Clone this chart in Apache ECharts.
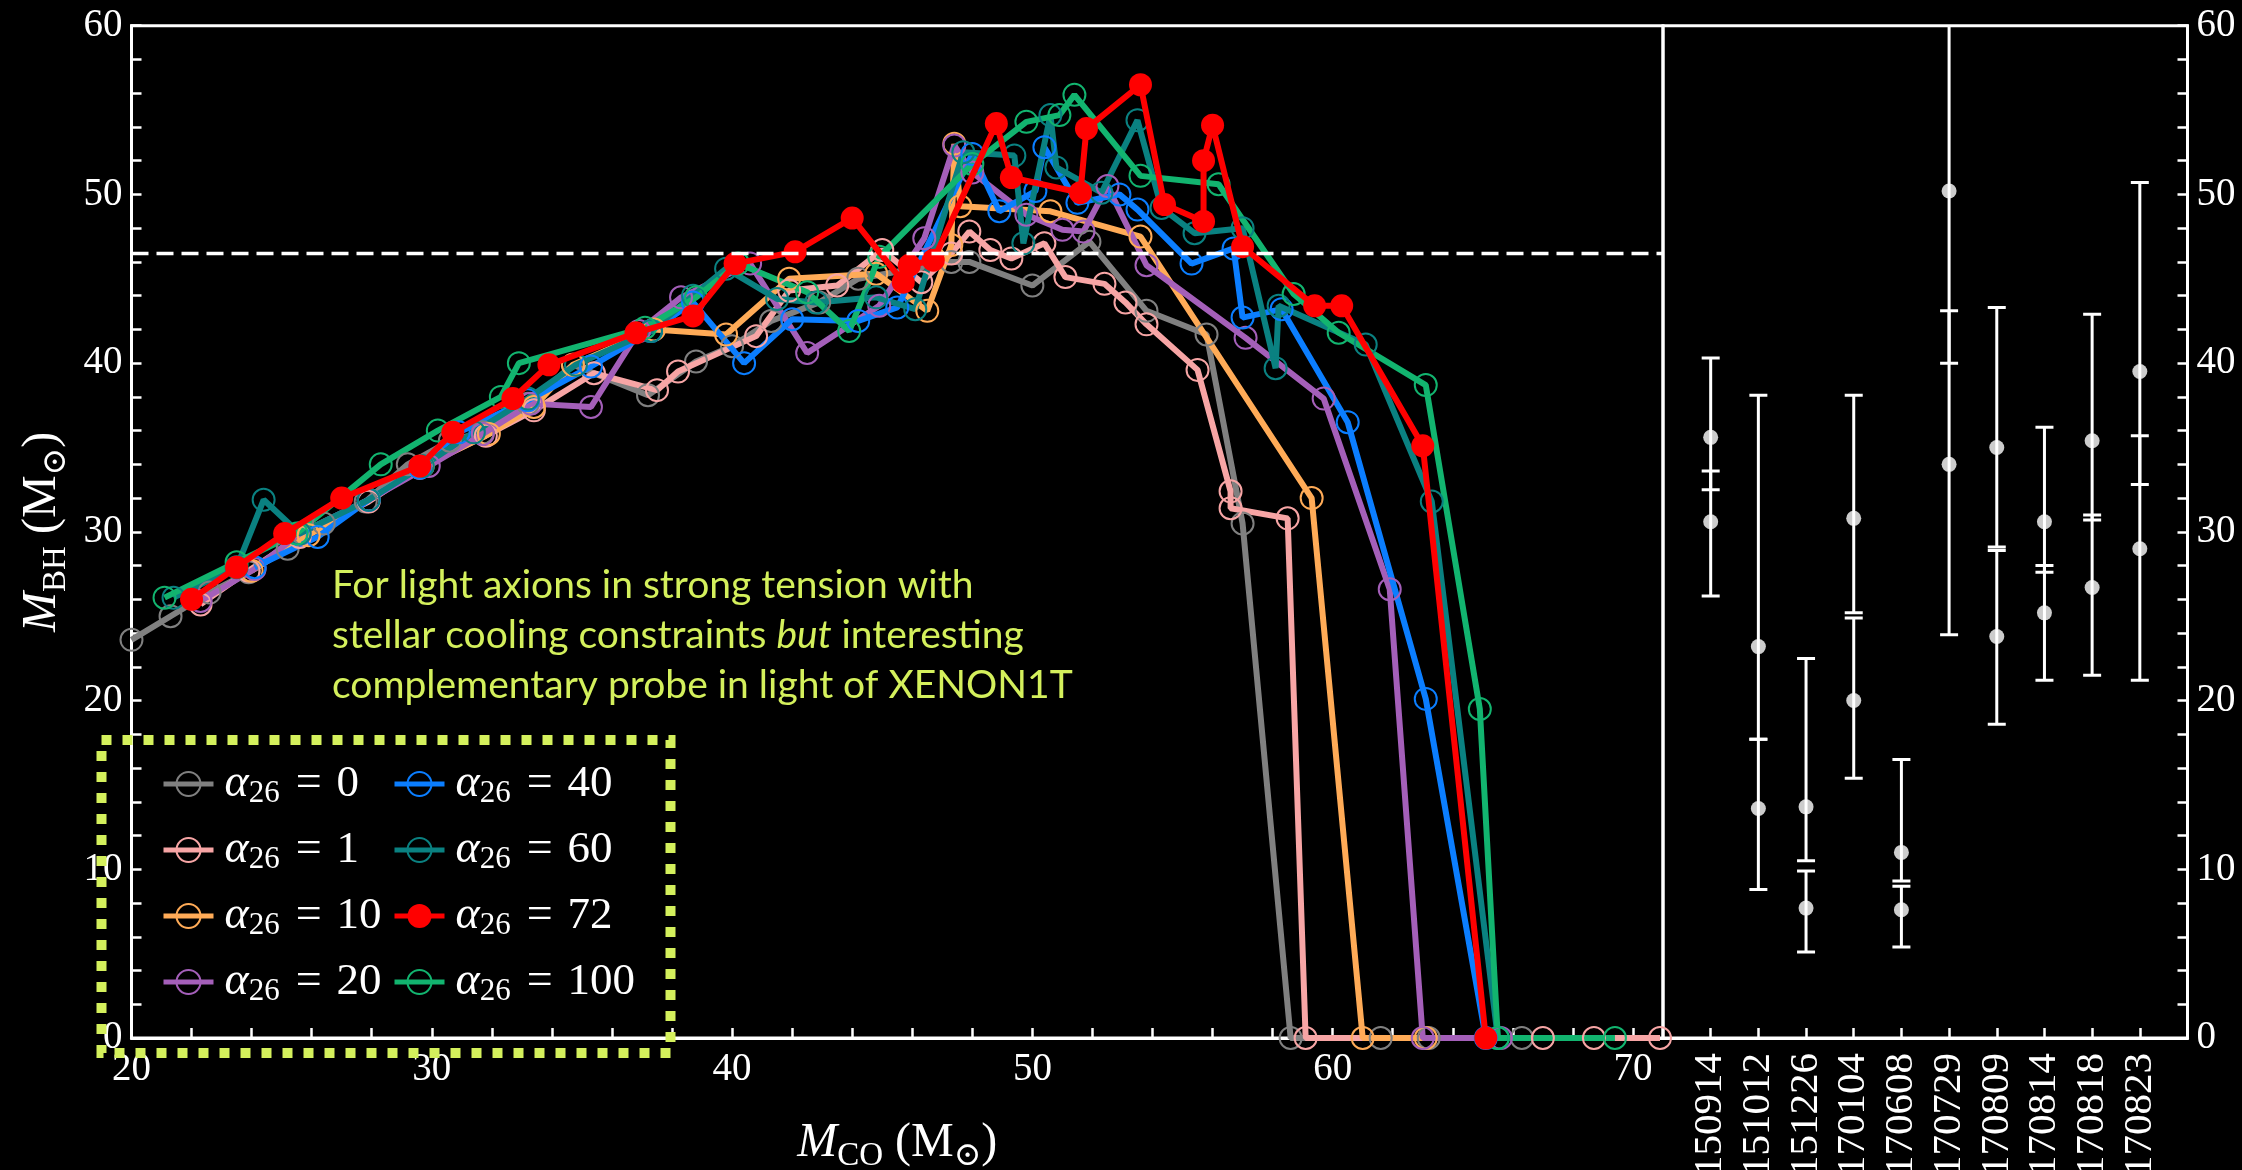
<!DOCTYPE html>
<html>
<head>
<meta charset="utf-8">
<script src="https://cdn.jsdelivr.net/npm/echarts@6/dist/echarts.min.js"></script>
<style>
  html, body { margin: 0; padding: 0; background: #000; }
  #chart { width: 2242px; height: 1170px; }
</style>
</head>
<body>
<div id="chart"></div>
<script>
// ---- Data: black-hole mass vs CO-core mass for several axion couplings ----
const alphaValues = [0, 1, 10, 20, 40, 60, 72, 100];

const mbhAlpha0 = [[20.0,23.6],[21.3,25.0],[22.6,26.4],[23.9,27.6],[25.2,29.0],[26.4,30.5],[27.8,31.8],[29.2,34.0],[30.6,35.4],[31.7,35.9],[33.2,37.6],[34.7,39.9],[37.2,38.1],[38.8,40.1],[40.0,41.0],[41.3,42.5],[42.9,43.6],[44.2,45.0],[47.3,46.0],[47.9,46.0],[50.0,44.6],[51.9,47.2],[53.8,43.1],[55.8,41.7],[57.0,30.5],[58.6,0],[61.6,0],[63.2,0],[66.3,0]];
const mbhAlpha1 = [[22.3,25.7],[23.9,27.7],[25.6,29.7],[27.9,31.8],[29.6,33.8],[31.8,35.7],[33.4,37.2],[35.4,39.4],[37.5,38.4],[38.2,39.5],[40.8,41.6],[41.9,44.3],[43.5,44.6],[45.0,46.7],[46.3,44.8],[47.3,46.5],[47.9,47.8],[48.6,46.7],[49.3,46.2],[50.4,47.1],[51.1,45.1],[52.4,44.7],[53.1,43.6],[53.8,42.3],[55.5,39.6],[56.6,32.4],[56.6,31.4],[58.5,30.8],[59.1,0],[67.0,0],[68.7,0],[70.9,0]];
const mbhAlpha10 = [[24.0,27.7],[25.9,29.8],[27.9,31.9],[29.7,33.9],[31.9,35.8],[33.4,37.4],[34.7,39.9],[37.4,42.0],[39.8,41.7],[41.9,45.0],[44.8,45.3],[46.5,43.1],[47.3,47.0],[47.4,53.0],[47.6,49.3],[50.6,49.0],[53.6,47.5],[59.3,32.0],[61.0,0],[63.1,0]];
const mbhAlpha20 = [[22.3,25.9],[24.1,27.8],[25.6,29.9],[27.9,31.9],[29.9,33.9],[31.7,35.8],[33.3,37.6],[35.3,37.4],[36.9,41.9],[38.3,43.9],[40.6,45.9],[42.5,40.6],[44.9,43.4],[46.4,47.4],[47.4,52.9],[48.0,51.3],[49.8,48.8],[51.0,47.9],[51.7,47.8],[52.5,50.5],[53.8,45.8],[57.1,41.5],[59.7,37.9],[61.9,26.6],[63.0,0],[65.6,0]];
const mbhAlpha40 = [[24.1,27.9],[26.2,29.7],[27.9,31.9],[29.6,33.8],[30.9,35.9],[33.2,37.8],[35.3,39.8],[37.3,41.9],[38.7,43.6],[40.4,40.0],[42.0,42.6],[44.2,42.5],[45.5,43.3],[48.0,52.4],[48.9,49.0],[50.1,50.2],[50.4,52.8],[51.5,49.5],[52.9,50.0],[53.5,49.1],[55.3,45.9],[56.7,46.8],[57.0,42.7],[58.3,43.2],[60.5,36.5],[63.1,20.1],[65.1,0]];
const mbhAlpha60 = [[21.4,26.1],[23.5,27.9],[24.4,31.9],[25.6,29.9],[27.9,31.9],[29.7,33.9],[31.4,35.9],[33.2,37.9],[34.8,39.9],[37.3,41.9],[38.7,44.0],[39.8,45.6],[41.5,43.8],[42.8,43.6],[44.8,43.9],[46.1,43.2],[47.7,52.5],[49.4,52.3],[49.7,47.1],[50.6,54.7],[50.8,51.6],[52.3,50.1],[53.5,54.4],[54.3,49.2],[55.4,47.7],[57.0,48.0],[58.1,39.7],[58.2,43.4],[61.1,41.1],[63.3,31.8],[65.5,0]];
const mbhAlpha72 = [[22.0,26.0],[23.5,27.9],[25.1,29.9],[27.0,32.0],[29.6,33.9],[30.7,35.9],[32.7,37.9],[33.9,39.9],[36.8,41.8],[38.7,42.8],[40.1,45.9],[42.1,46.6],[44.0,48.6],[45.7,44.8],[45.9,45.8],[46.7,46.1],[48.8,54.2],[49.3,51.0],[51.6,50.1],[51.8,53.9],[53.6,56.5],[54.4,49.4],[55.7,48.4],[55.7,52.0],[56.0,54.1],[57.0,46.9],[59.4,43.4],[60.3,43.4],[63.0,35.1],[65.1,0]];
const mbhAlpha100 = [[21.1,26.1],[23.5,28.2],[25.5,29.9],[28.3,34.0],[30.2,36.0],[32.3,38.0],[32.9,40.0],[37.1,42.1],[38.8,43.9],[40.2,45.9],[42.5,44.2],[43.9,41.9],[44.9,46.3],[48.0,51.8],[49.8,54.3],[50.9,54.7],[51.4,55.9],[53.6,51.1],[56.2,50.6],[58.7,44.1],[60.2,41.8],[63.1,38.7],[64.9,19.5],[65.5,0],[69.4,0]];

const mbhSeries = [mbhAlpha0, mbhAlpha1, mbhAlpha10, mbhAlpha20, mbhAlpha40, mbhAlpha60, mbhAlpha72, mbhAlpha100];

// Lower edge of the pair-instability mass gap
const massGapEdge = 46.5;
const mcoRange = [20, 71];

// GWTC-1 binary black-hole events: primary (m1) and secondary (m2) masses with 90% intervals
const events = ['GW150914','GW151012','GW151226','GW170104','GW170608','GW170729','GW170809','GW170814','GW170818','GW170823'];
const m1 =    [35.6, 23.2, 13.7, 30.8, 11.0, 50.2, 35.0, 30.6, 35.4, 39.5];
const m1Low = [32.5, 17.7, 10.5, 25.2,  9.3, 40.0, 29.1, 27.6, 30.7, 32.8];
const m1High =[40.3, 38.1, 22.5, 38.1, 16.5, 66.4, 43.3, 36.2, 42.9, 50.7];
const m2 =    [30.6, 13.6,  7.7, 20.0,  7.6, 34.0, 23.8, 25.2, 26.7, 29.0];
const m2Low = [26.2,  8.8,  5.1, 15.4,  5.4, 23.9, 18.6, 21.2, 21.5, 21.2];
const m2High =[33.6, 17.7,  9.9, 24.9,  9.0, 43.1, 28.9, 28.0, 31.0, 35.7];

// Axis ticks and labels
const xTicks = [20,22,24,26,28,30,32,34,36,38,40,42,44,46,48,50,52,54,56,58,60,62,64,66,68,70];
const xLabels = [20,30,40,50,60,70];
const yTicks = [0,2,4,6,8,10,12,14,16,18,20,22,24,26,28,30,32,34,36,38,40,42,44,46,48,50,52,54,56,58,60];
const yLabels = [0,10,20,30,40,50,60];
const eventSlots = [1,2,3,4,5,6,7,8,9,10];
const eventRange = [0, 11];

// ---- Styling ----
const serif = "'Liberation Serif','DejaVu Serif',serif";
const colors = ['#808080', '#f7a5a5', '#ffab57', '#a45fb9', '#0b7eff', '#0a8181', '#ff0000', '#12b46f'];
const accent = '#d4f05c';
const white = '#ffffff';
const curveWidth = 6;
const legendLineWidth = 5;

const seriesNames = alphaValues.map(v => 'alpha26=' + v);

const legendRich = {
  a: { fontFamily: serif, fontStyle: 'italic', fontSize: 46, lineHeight: 50, color: white, padding: [0, 0, 0, 6] },
  s: { fontFamily: serif, fontSize: 31, lineHeight: 30, verticalAlign: 'bottom', color: white },
  q: { fontFamily: serif, fontSize: 46, lineHeight: 50, color: white, padding: [0, 15, 0, 16] },
  e: { fontFamily: serif, fontSize: 45, lineHeight: 50, color: white }
};
function legendLabel(name) {
  const v = alphaValues[seriesNames.indexOf(name)];
  return '{a|α}{s|26}{q|=}{e|' + v + '}';
}

const nameRich = {
  m: { fontFamily: serif, fontStyle: 'italic', fontSize: 48, lineHeight: 60, color: white },
  s: { fontFamily: serif, fontSize: 33, lineHeight: 40, verticalAlign: 'bottom', color: white },
  n: { fontFamily: serif, fontSize: 48, lineHeight: 60, color: white }
};

const tickStyle = { color: white, width: 2.5 };
const axisLineStyle = { color: white, width: 3 };
const labelStyle = { color: white, fontFamily: serif, fontSize: 39 };

const lineSeries = mbhSeries.map((data, i) => {
  const c = colors[i];
  const filled = alphaValues[i] === 72;
  return {
    type: 'line',
    name: seriesNames[i],
    xAxisIndex: 0,
    yAxisIndex: 0,
    data: data,
    symbol: 'circle',
    symbolSize: filled ? 23 : 22,
    color: c,
    lineStyle: { color: c, width: curveWidth, opacity: 1 },
    itemStyle: filled ? { color: c } : { color: 'rgba(0,0,0,0)', borderColor: c, borderWidth: 2 },
    emphasis: { disabled: true },
    z: filled ? 4 : 3,
    clip: true,
    animation: false
  };
});

const gapLine = {
  type: 'line',
  name: 'gap',
  xAxisIndex: 0,
  yAxisIndex: 0,
  data: [[mcoRange[0], massGapEdge], [mcoRange[1], massGapEdge]],
  symbol: 'none',
  lineStyle: { color: white, width: 3.5, type: [17, 8] },
  emphasis: { disabled: true },
  silent: true,
  z: 5,
  animation: false
};

// Error bars: [slot, low, high] for both component masses
const barData = [];
events.forEach((e, i) => {
  barData.push([eventSlots[i], m1Low[i], m1High[i]]);
  barData.push([eventSlots[i], m2Low[i], m2High[i]]);
});
const dotData = [];
events.forEach((e, i) => {
  dotData.push([eventSlots[i], m1[i]]);
  dotData.push([eventSlots[i], m2[i]]);
});

const errorBars = {
  type: 'custom',
  xAxisIndex: 1,
  yAxisIndex: 1,
  data: barData,
  clip: true,
  silent: true,
  animation: false,
  renderItem: function (params, api) {
    const x = api.value(0);
    const lo = api.coord([x, api.value(1)]);
    const hi = api.coord([x, api.value(2)]);
    const hw = 9;
    const st = { stroke: white, lineWidth: 3 };
    return {
      type: 'group',
      children: [
        { type: 'line', shape: { x1: lo[0], y1: lo[1], x2: hi[0], y2: hi[1] }, style: st },
        { type: 'line', shape: { x1: lo[0] - hw, y1: lo[1], x2: lo[0] + hw, y2: lo[1] }, style: st },
        { type: 'line', shape: { x1: hi[0] - hw, y1: hi[1], x2: hi[0] + hw, y2: hi[1] }, style: st }
      ]
    };
  }
};

const eventDots = {
  type: 'scatter',
  xAxisIndex: 1,
  yAxisIndex: 1,
  data: dotData,
  symbol: 'circle',
  symbolSize: 15,
  itemStyle: { color: white },
  silent: true,
  z: 5,
  animation: false
};

const legendCommon = {
  orient: 'vertical',
  itemWidth: 50,
  itemHeight: 30,
  itemGap: 18,
  padding: 0,
  selectedMode: false,
  formatter: legendLabel,
  lineStyle: { width: legendLineWidth },
  textStyle: { color: white, rich: legendRich }
};

const chart = echarts.init(document.getElementById('chart'), null, { renderer: 'canvas' });

chart.setOption({
  backgroundColor: '#000',
  animation: false,
  grid: [
    { left: 131.5, top: 25.7, right: 579, bottom: 132, show: true, borderColor: white, borderWidth: 3, backgroundColor: 'transparent', outerBoundsMode: 'none', containLabel: false },
    { left: 1663, top: 25.7, right: 54.5, bottom: 132, show: true, borderColor: white, borderWidth: 3, backgroundColor: 'transparent', outerBoundsMode: 'none', containLabel: false }
  ],
  xAxis: [
    {
      type: 'value', gridIndex: 0, min: mcoRange[0], max: mcoRange[1],
      axisLine: { show: true, onZero: false, lineStyle: axisLineStyle },
      axisTick: { show: true, inside: true, length: 10, lineStyle: tickStyle, customValues: xTicks },
      axisLabel: Object.assign({ margin: 12, customValues: xLabels }, labelStyle),
      splitLine: { show: false },
      name: '{m|M}{s|CO}{n| (M}{s|⊙}{n|)}',
      nameLocation: 'middle',
      nameGap: 75,
      nameTextStyle: { rich: nameRich, color: white }
    },
    {
      type: 'value', gridIndex: 1, min: eventRange[0], max: eventRange[1],
      axisLine: { show: true, onZero: false, lineStyle: axisLineStyle },
      axisTick: { show: true, inside: true, length: 10, lineStyle: tickStyle, customValues: eventSlots },
      axisLabel: Object.assign({ margin: 15, rotate: 90, customValues: eventSlots, fontSize: 41,
        formatter: v => events[Math.round(v) - 1] || '' }, { color: white, fontFamily: serif }),
      splitLine: { show: false }
    }
  ],
  yAxis: [
    {
      type: 'value', gridIndex: 0, min: 0, max: 60,
      axisLine: { show: true, onZero: false, lineStyle: axisLineStyle },
      axisTick: { show: true, inside: true, length: 10, lineStyle: tickStyle, customValues: yTicks },
      axisLabel: Object.assign({ margin: 9, customValues: yLabels }, labelStyle),
      splitLine: { show: false },
      name: '{m|M}{s|BH}{n| (M}{s|⊙}{n|)}',
      nameLocation: 'middle',
      nameRotate: 90,
      nameGap: 56,
      nameTextStyle: { rich: nameRich, color: white }
    },
    {
      type: 'value', gridIndex: 1, min: 0, max: 60, position: 'right',
      axisLine: { show: true, onZero: false, lineStyle: axisLineStyle },
      axisTick: { show: true, inside: true, length: 10, lineStyle: tickStyle, customValues: yTicks },
      axisLabel: Object.assign({ margin: 9, customValues: yLabels }, labelStyle),
      splitLine: { show: false }
    }
  ],
  legend: [
    Object.assign({ left: 161, top: 761, data: seriesNames.slice(0, 4) }, legendCommon),
    Object.assign({ left: 392, top: 761, data: seriesNames.slice(4) }, legendCommon)
  ],
  graphic: [
    {
      type: 'rect', z: 100, silent: true,
      shape: { x: 101.5, y: 740, width: 569, height: 313 },
      style: { fill: 'none', stroke: accent, lineWidth: 10, lineDash: [10, 11] }
    },
    {
      type: 'text', z: 100, left: 332, top: 560, silent: true,
      style: {
        text: 'For light axions in strong tension with\nstellar cooling constraints {i|but} interesting\ncomplementary probe in light of XENON1T',
        fill: accent,
        fontFamily: 'Lato',
        fontSize: 39,
        lineHeight: 50,
        rich: {
          i: { fontFamily: 'Lato', fontStyle: 'italic', fontSize: 39, lineHeight: 50, fill: accent }
        }
      }
    }
  ],
  series: lineSeries.concat([gapLine, errorBars, eventDots])
});
</script>
</body>
</html>
